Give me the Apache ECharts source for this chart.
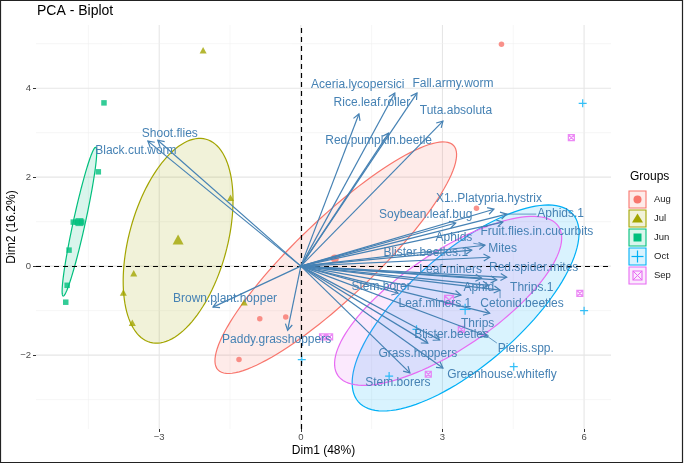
<!DOCTYPE html>
<html><head><meta charset="utf-8">
<script src="https://cdn.jsdelivr.net/npm/echarts@6/dist/echarts.min.js"></script>
<style>html,body{margin:0;padding:0;background:#fff}#c{width:685px;height:464px}</style>
</head><body><div id="c"></div>
<script>
// ---------------- data ----------------
const groups = ['Aug', 'Jul', 'Jun', 'Oct', 'Sep'];

const augX = [4.25, 3.72, -0.87, -0.32, -1.31];
const augY = [4.99, 1.30, -1.18, -1.14, -2.10];
const julX = [-2.07, -1.49, -3.54, -3.76, -3.57, -1.20];
const julY = [4.85, 1.54, -0.16, -0.59, -1.27, -0.81];
const junX = [-4.17, -4.29, -4.82, -4.74, -4.64, -4.91, -4.95, -4.98];
const junY = [3.67, 2.12, 0.99, 0.99, 0.99, 0.36, -0.43, -0.81];
const octX = [5.97, 6.00, 4.51, 1.87, 0.02, 2.45];
const octY = [3.66, -1.00, -2.26, -2.47, -2.10, -1.42];
const sepX = [5.73, 5.91, 3.40, 2.70, 0.46, 0.61];
const sepY = [2.89, -0.61, -1.42, -2.43, -1.59, -1.59];

// group means (Dim1, Dim2)
const meanX = [0.72, -2.60, -4.69, 3.48, 3.14];
const meanY = [0.17, 0.60, 0.99, -0.97, -0.76];

// concentration ellipses: centre, first and second semi-axis vectors (Dim1, Dim2)
const ellCx = [0.74, -2.60, -4.69, 3.49, 3.12];
const ellCy = [0.19, 0.57, 1.00, -0.94, -0.78];
const ellUx = [2.494, 0.591, 0.345, 2.271, 2.337];
const ellUy = [2.523, 2.283, 1.672, 2.110, 1.674];
const ellVx = [0.574, 1.002, 0.124, 0.786, 0.570];
const ellVy = [-0.638, -0.292, -0.029, -0.953, -0.897];

// variable loadings (arrows)
const varNames = ['Shoot.flies', 'Black.cut.worm', 'Brown.plant.hopper', 'Paddy.grasshoppers',
  'Rice.leaf.roller', 'Aceria.lycopersici', 'Fall.army.worm', 'Tuta.absoluta', 'Red.pumpkin.beetle',
  'X1..Platypria.hystrix', 'Aphids.1', 'Soybean.leaf.bug', 'Fruit.flies.in.cucurbits', 'Aphids',
  'Mites', 'Blister.beetles.1', 'Leaf.miners', 'Red.spider.mites', 'Thrips.1', 'Aphid',
  'Cetonid.beetles', 'Leaf.miners.1', 'Stem.borer', 'Thrips', 'Pieris.spp.', 'Blister.beetles',
  'Grass.hoppers', 'Greenhouse.whitefly', 'Stem.borers'];
const varDim1 = [-3.03, -3.24, -1.86, -0.28, 1.23, 1.99, 2.46, 3.01, 1.86,
  4.09, 4.36, 3.28, 4.28, 3.90, 4.00, 3.62, 3.83, 4.36, 4.15, 3.98,
  4.22, 3.39, 2.06, 4.00, 3.94, 2.94, 2.69, 3.01, 2.31];
const varDim2 = [2.83, 2.81, -0.92, -1.44, 3.42, 3.89, 3.89, 3.26, 2.99,
  1.28, 1.17, 0.97, 0.99, 0.47, 0.20, 0.36, -0.27, -0.25, -0.31, -0.43,
  -0.54, -0.65, -0.61, -1.06, -1.57, -1.66, -1.73, -2.29, -2.40];

// axes
const xRange = [-5.61, 6.57];
const yRange = [-3.66, 5.42];
const xTicks = [-3, 0, 3, 6];
const yTicks = [-2, 0, 2, 4];
const xMinor = [-4.5, -1.5, 1.5, 4.5];
const yMinor = [-3, -1, 1, 3, 5];

// ---------------- layout / style ----------------
const FONT = '"Liberation Sans", Arial, Helvetica, sans-serif';
const colors = ['#F8766D', '#A3A500', '#00BF7D', '#00B0F6', '#E76BF3'];
const ARROW = '#4682B4';
// label offsets (px) from arrow tips, as placed by repel
const labelNudge = [[12,-7],[-12,10],[12,-8],[-11,9],[13,-11],[-37,-8],[36,-9],[13,-10],[-10,8],
  [-5,-11],[54,0],[-30,-8],[34,10],[-31,-8],[13,-9],[-46,3],[-31,-8],[27,-10],[35,8],[-10,2],
  [22,14],[-26,9],[-17,-7],[-12,10],[39,13],[12,-5],[-10,11],[59,7],[-12,10]];
const leaderLabels = ['Aphids.1', 'Aphids', 'Cetonid.beetles', 'Pieris.spp.'];

function rgba(hex, a) {
  const n = parseInt(hex.slice(1), 16);
  return 'rgba(' + (n >> 16) + ',' + ((n >> 8) & 255) + ',' + (n & 255) + ',' + a + ')';
}
const PLUS = 'path://M5,0L5,10M0,5L10,5';
const SQX = 'path://M0,0L10,0L10,10L0,10Z M0,0L10,10 M10,0L0,10';
const symSmall = ['circle', 'triangle', 'rect', PLUS, SQX];
const sizeSmall = [5.5, [7, 6.5], 5.5, 8, 6];
const sizeMean = [8, [11, 10], 8, 11, 9];
const strokeOnly = [false, false, false, true, true];
const xs = [augX, julX, junX, octX, sepX];
const ys = [augY, julY, junY, octY, sepY];

const mctx = document.createElement('canvas').getContext('2d');
const LABEL_FONT = '12px ' + FONT;
mctx.font = LABEL_FONT;

const series = [];

// grid lines
const gridData = [];
xTicks.forEach(v => gridData.push([v, 0, 1]));
xMinor.forEach(v => gridData.push([v, 0, 0]));
yTicks.forEach(v => gridData.push([v, 1, 1]));
yMinor.forEach(v => gridData.push([v, 1, 0]));
series.push({
  type: 'custom', z: 1, silent: true, clip: true, data: gridData,
  renderItem: (params, api) => {
    const v = api.value(0), horiz = api.value(1), major = api.value(2);
    let a, b;
    if (horiz) { a = api.coord([xRange[0], v]); b = api.coord([xRange[1], v]); }
    else { a = api.coord([v, yRange[0]]); b = api.coord([v, yRange[1]]); }
    return { type: 'line', shape: { x1: a[0], y1: a[1], x2: b[0], y2: b[1] },
      style: { stroke: major ? '#E6E6E6' : '#F0F0F0', lineWidth: major ? 1.1 : 0.6 } };
  }
});

// ellipses
series.push({
  type: 'custom', z: 2, silent: true, clip: true,
  data: groups.map((g, i) => [ellCx[i], ellCy[i]]),
  renderItem: (params, api) => {
    const i = params.dataIndex;
    const pts = [];
    for (let k = 0; k < 120; k++) {
      const t = k / 120 * Math.PI * 2;
      pts.push(api.coord([ellCx[i] + ellUx[i] * Math.cos(t) + ellVx[i] * Math.sin(t),
                          ellCy[i] + ellUy[i] * Math.cos(t) + ellVy[i] * Math.sin(t)]));
    }
    return { type: 'polygon', shape: { points: pts },
      style: { fill: rgba(colors[i], 0.15), stroke: colors[i], lineWidth: 1.2 } };
  }
});

// points
groups.forEach((g, i) => {
  const st = strokeOnly[i]
    ? { color: 'rgba(0,0,0,0)', borderColor: colors[i], borderWidth: 1.2 }
    : { color: colors[i] };
  series.push({
    type: 'scatter', name: g, z: 3, silent: true, symbol: symSmall[i], symbolSize: sizeSmall[i],
    itemStyle: st, data: xs[i].map((x, k) => [x, ys[i][k]])
  });
  series.push({
    type: 'scatter', name: g + ' mean', z: 3, silent: true, symbol: symSmall[i], symbolSize: sizeMean[i],
    itemStyle: st, data: [[meanX[i], meanY[i]]]
  });
});

// dashed reference lines
series.push({
  type: 'scatter', z: 4, data: [], silent: true,
  markLine: { silent: true, symbol: 'none', label: { show: false },
    lineStyle: { color: '#000', type: [5, 4], width: 1.2 },
    data: [{ xAxis: 0 }, { yAxis: 0 }] }
});

// arrows
series.push({
  type: 'custom', z: 5, silent: true,
  data: varNames.map((n, i) => [varDim1[i], varDim2[i]]),
  renderItem: (params, api) => {
    const p0 = api.coord([0, 0]);
    const p1 = api.coord([api.value(0), api.value(1)]);
    const ang = Math.atan2(p1[1] - p0[1], p1[0] - p0[0]);
    const L = 7, a = Math.PI / 6;
    const h1 = [p1[0] - L * Math.cos(ang - a), p1[1] - L * Math.sin(ang - a)];
    const h2 = [p1[0] - L * Math.cos(ang + a), p1[1] - L * Math.sin(ang + a)];
    return { type: 'group', children: [
      { type: 'line', shape: { x1: p0[0], y1: p0[1], x2: p1[0], y2: p1[1] },
        style: { stroke: ARROW, lineWidth: 1.2 } },
      { type: 'polyline', shape: { points: [h1, p1, h2] },
        style: { stroke: ARROW, lineWidth: 1.2, fill: null } }
    ] };
  }
});

// variable labels
series.push({
  type: 'custom', z: 6, silent: true,
  data: varNames.map((n, i) => [varDim1[i], varDim2[i]]),
  renderItem: (params, api) => {
    const i = params.dataIndex;
    const name = varNames[i];
    const p = api.coord([api.value(0), api.value(1)]);
    const cx = p[0] + labelNudge[i][0], cy = p[1] + labelNudge[i][1];
    const children = [{ type: 'text', style: { text: name, x: cx, y: cy, align: 'center',
      verticalAlign: 'middle', fill: ARROW, font: LABEL_FONT } }];
    if (leaderLabels.indexOf(name) >= 0) {
      const w = mctx.measureText(name).width, h = 12;
      const qx = Math.min(Math.max(p[0], cx - w / 2 - 1), cx + w / 2 + 1);
      const qy = Math.min(Math.max(p[1], cy - h / 2), cy + h / 2);
      children.push({ type: 'line', shape: { x1: p[0], y1: p[1], x2: qx, y2: qy },
        style: { stroke: ARROW, lineWidth: 0.8 } });
    }
    return { type: 'group', children };
  }
});

// legend graphics
const legend = [{ type: 'text', left: 630, top: 171, style: { text: 'Groups', font: '12px ' + FONT, fill: '#000' } }];
groups.forEach((g, i) => {
  const y = 191 + i * 19, x = 629, c = colors[i];
  const cxk = x + 8.5, cyk = y + 8.5;
  legend.push({ type: 'rect', shape: { x: x, y: y, width: 17, height: 17 },
    style: { fill: rgba(c, 0.15), stroke: c, lineWidth: 1.1 } });
  let sym;
  if (i === 0) sym = { type: 'circle', shape: { cx: cxk, cy: cyk, r: 4 }, style: { fill: c } };
  else if (i === 1) sym = { type: 'polygon', shape: { points: [[cxk, cyk - 5], [cxk + 5.5, cyk + 4], [cxk - 5.5, cyk + 4]] }, style: { fill: c } };
  else if (i === 2) sym = { type: 'rect', shape: { x: cxk - 4, y: cyk - 4, width: 8, height: 8 }, style: { fill: c } };
  else if (i === 3) sym = { type: 'polyline', shape: { points: [[cxk - 6, cyk], [cxk + 6, cyk]] }, style: { stroke: c, lineWidth: 1.2 } };
  else sym = { type: 'group', children: [
    { type: 'rect', shape: { x: cxk - 4.5, y: cyk - 4.5, width: 9, height: 9 }, style: { fill: 'none', stroke: c, lineWidth: 1.1 } },
    { type: 'polyline', shape: { points: [[cxk - 4.5, cyk - 4.5], [cxk + 4.5, cyk + 4.5]] }, style: { stroke: c, lineWidth: 1 } },
    { type: 'polyline', shape: { points: [[cxk + 4.5, cyk - 4.5], [cxk - 4.5, cyk + 4.5]] }, style: { stroke: c, lineWidth: 1 } }
  ] };
  legend.push(sym);
  if (i === 3) legend.push({ type: 'polyline', shape: { points: [[cxk, cyk - 6], [cxk, cyk + 6]] }, style: { stroke: c, lineWidth: 1.2 } });
  legend.push({ type: 'text', style: { text: g, x: 654, y: cyk, verticalAlign: 'middle', font: '9.5px ' + FONT, fill: '#1a1a1a' } });
});

const chart = echarts.init(document.getElementById('c'), null, { renderer: 'canvas' });
const minus = v => String(v).replace('-', '\u2212');
chart.setOption({
  animation: false,
  backgroundColor: '#fff',
  grid: { left: 36, right: 74, top: 25, bottom: 35 },
  xAxis: {
    type: 'value', min: xRange[0], max: xRange[1],
    axisLine: { show: false, onZero: false },
    axisTick: { show: true, customValues: xTicks, length: 3, lineStyle: { color: '#333', width: 1 } },
    axisLabel: { customValues: xTicks, formatter: minus, fontSize: 9.5, color: '#4D4D4D', margin: 3, fontFamily: FONT },
    splitLine: { show: false }
  },
  yAxis: {
    type: 'value', min: yRange[0], max: yRange[1],
    axisLine: { show: false, onZero: false },
    axisTick: { show: true, customValues: yTicks, length: 3, lineStyle: { color: '#333', width: 1 } },
    axisLabel: { customValues: yTicks, formatter: minus, fontSize: 9.5, color: '#4D4D4D', margin: 5, fontFamily: FONT },
    splitLine: { show: false }
  },
  graphic: [
    { type: 'rect', silent: true, shape: { x: 0.5, y: 0.5, width: 682, height: 462 }, style: { fill: 'none', stroke: '#222', lineWidth: 1.2 } },
    { type: 'text', left: 37, top: 4, style: { text: 'PCA - Biplot', font: '14px ' + FONT, fill: '#000' } },
    { type: 'text', style: { text: 'Dim1 (48%)', x: 323.5, y: 451, align: 'center', verticalAlign: 'middle', font: '12px ' + FONT, fill: '#000' } },
    { type: 'text', x: 12, y: 227, rotation: Math.PI / 2, style: { text: 'Dim2 (16.2%)', x: 0, y: 0, align: 'center', verticalAlign: 'middle', font: '12px ' + FONT, fill: '#000' } }
  ].concat(legend),
  series: series
});
</script></body></html>
